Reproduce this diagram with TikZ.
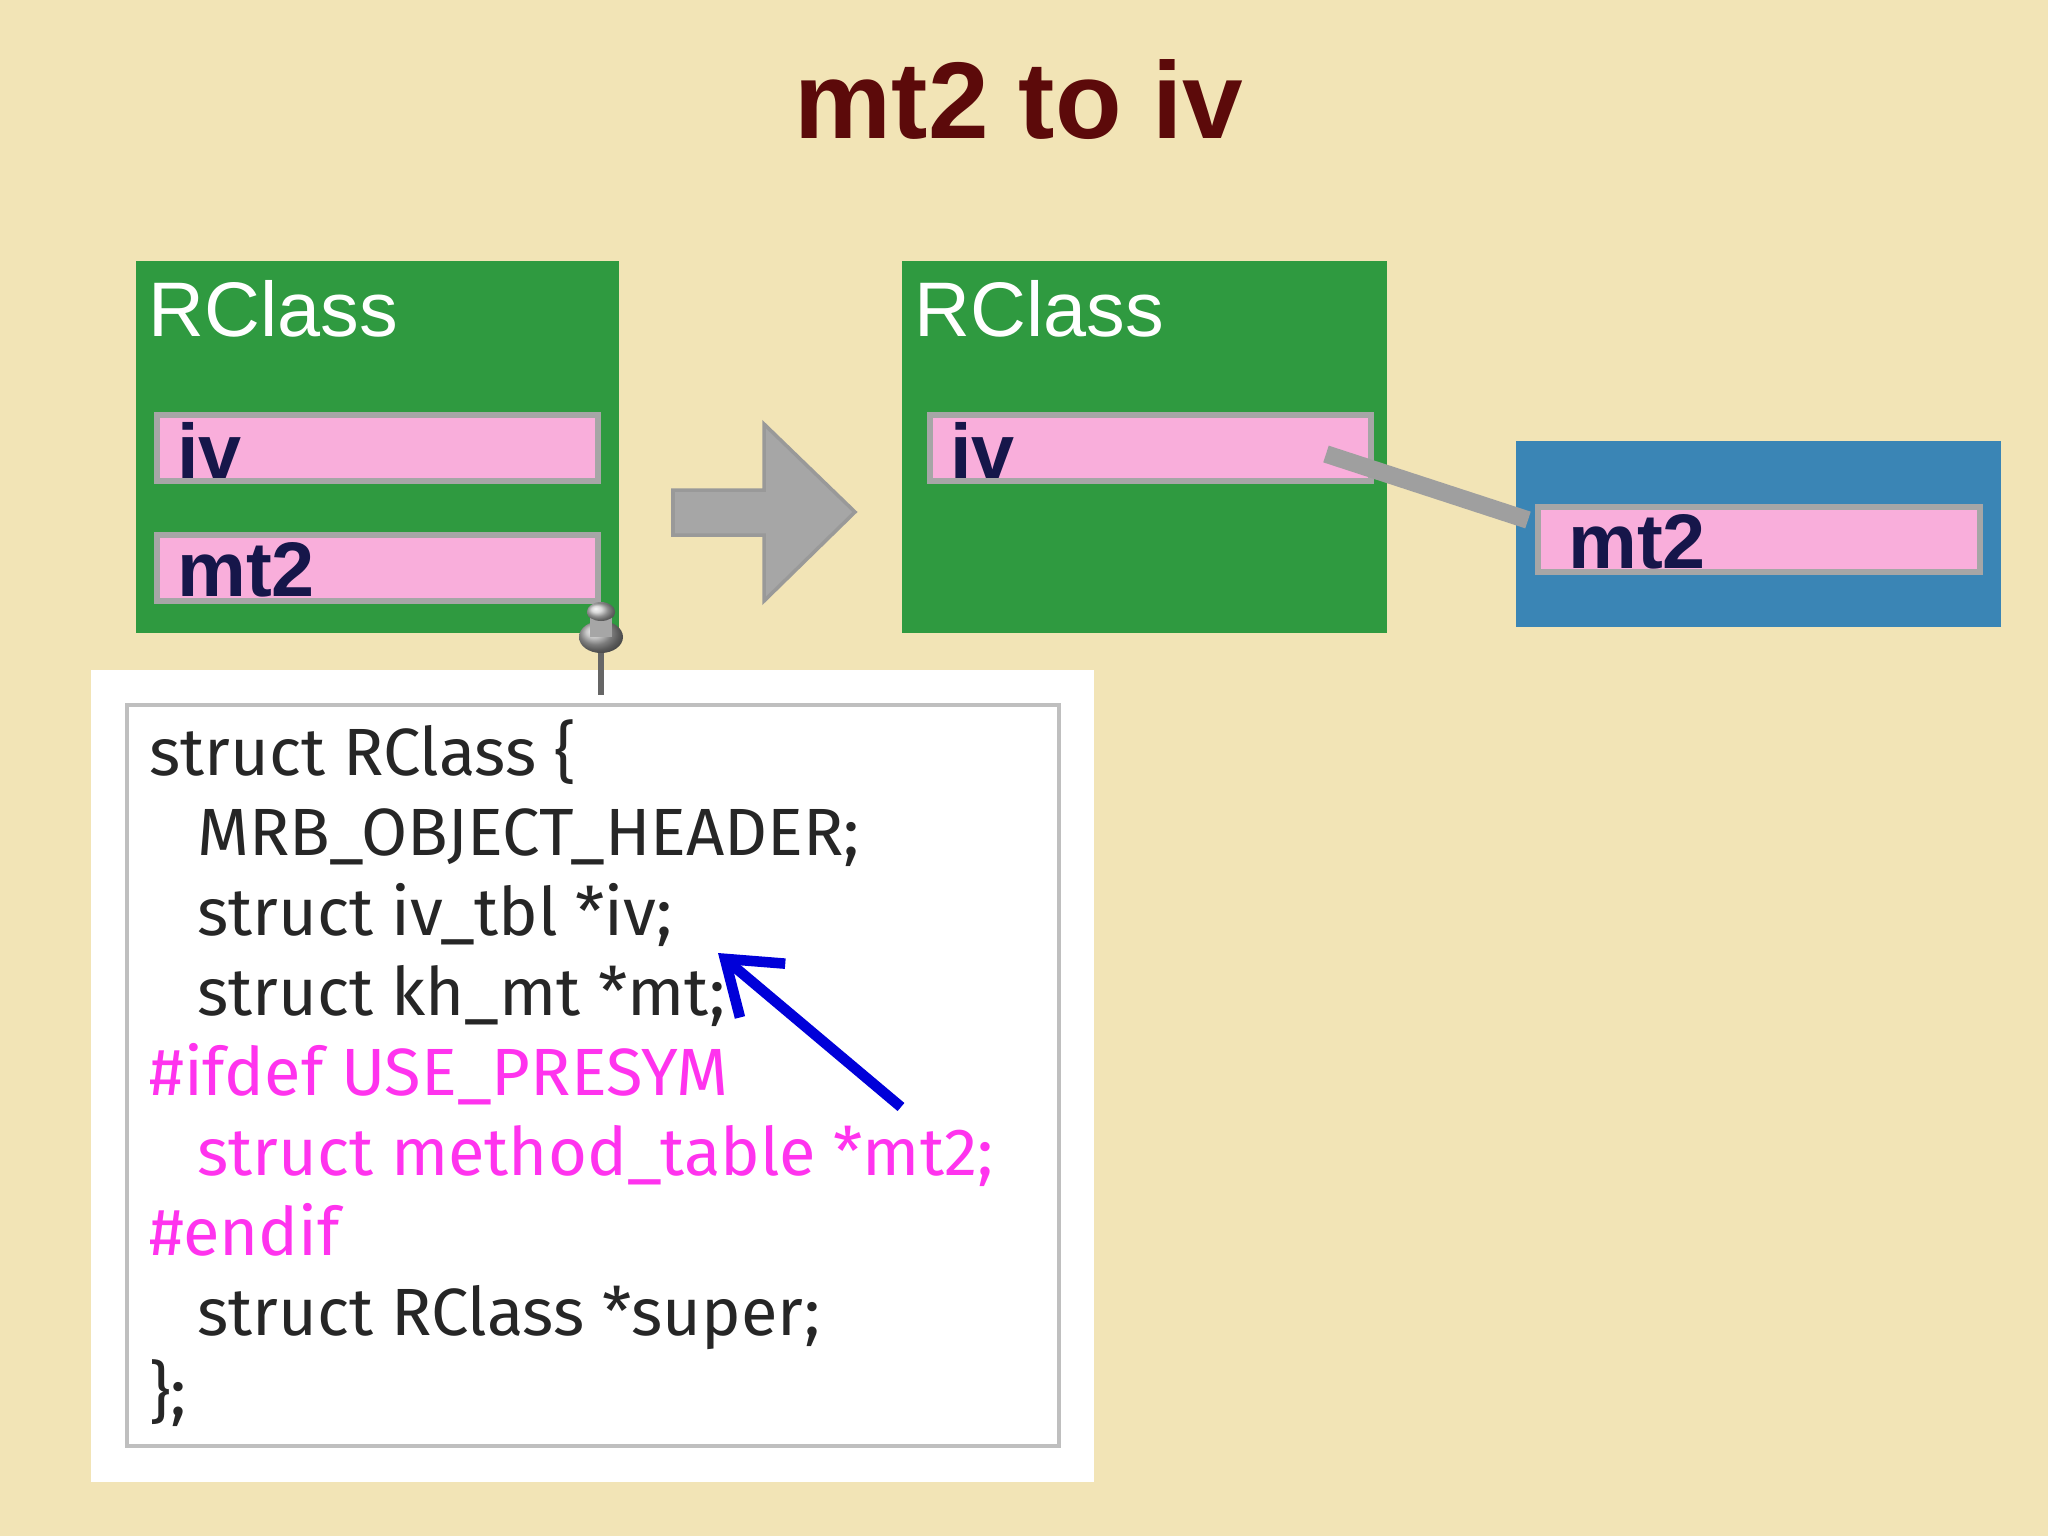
\documentclass[tikz,border=0pt]{standalone}
\usepackage{fontspec}
\setmainfont{Liberation Sans}
\newfontfamily\codefont{Fira Sans}
\usetikzlibrary{arrows.meta}
\definecolor{bg}{HTML}{F2E4B6}
\definecolor{grn}{HTML}{2F9A40}
\definecolor{pnk}{HTML}{F9AEDB}
\definecolor{blu}{HTML}{3A85B5}
\definecolor{ttl}{HTML}{5C0A0A}
\definecolor{navy}{HTML}{16164A}
\definecolor{mag}{HTML}{FF33EE}
\begin{document}
\begin{tikzpicture}[x=0.01cm,y=-0.01cm,
  greenbox/.style={fill=grn,draw=none},
  field/.style={fill=pnk,draw=gray!70,line width=1.5pt},
  fieldtxt/.style={anchor=west,text=navy,font=\fontsize{22}{24}\selectfont\bfseries},
  rclass/.style={anchor=north west,text=white,font=\fontsize{22}{24}\selectfont},
  code/.style={anchor=base west,font=\codefont\fontsize{19}{22}\selectfont,text=black!85},
  codem/.style={code,text=mag}]
\useasboundingbox (0,0) rectangle (2048,1536);
\fill[bg] (0,0) rectangle (2048,1536);
\node[font=\fontsize{31}{34}\selectfont\bfseries,text=ttl] (title) at (1019,100) {mt2 to iv};
% left box
\fill[greenbox] (136,261) rectangle (619,633);
\node[rclass] (rc1) at (136,268) {RClass};
\draw[field] (157,415) rectangle (598,481);
\node[fieldtxt] (iv1) at (165,450) {iv};
\draw[field] (157,535) rectangle (598,601);
\node[fieldtxt] (mt1) at (165,570) {mt2};
% arrow
\fill[gray!70!white,draw=gray!80,line width=1pt] (673,490) -- (764,490) -- (764,424) -- (855,512) -- (764,601) -- (764,535) -- (673,535) -- cycle;
% right box
\fill[greenbox] (902,261) rectangle (1387,633);
\node[rclass] (rc2) at (902,268) {RClass};
\draw[field] (930,415) rectangle (1371,481);
\node[fieldtxt] (iv2) at (938,450) {iv};
\fill[blu] (1516,441) rectangle (2001,627);
\draw[field] (1538,507) rectangle (1980,572);
\node[fieldtxt] (mt2) at (1556,542) {mt2};
\coordinate (a) at (1326,454);
\coordinate (b) at (1528,520);
\draw[gray!75,line width=5pt] (a) -- (b);
% paper
\fill[white] (91,670) rectangle (1094,1482);
\draw[gray!50,line width=1pt] (127,705) rectangle (1059,1446);
% pin
\fill[black!60] (598,640) rectangle (604,695);
\shade[ball color=gray!60] (601,637) ellipse (22 and 16);
\shade[ball color=gray!40] (601,612) ellipse (14 and 10);
\fill[gray!70] (590,612) rectangle (612,637);
\shade[ball color=gray!40] (601,612) ellipse (14 and 9);
% code
\node[code] (l1) at (137,775) {struct RClass \{};
\node[code] (l2) at (185,855) {MRB\_OBJECT\_HEADER;};
\node[code] (l3) at (185,935) {struct iv\_tbl *iv;};
\node[code] (l4) at (185,1015) {struct kh\_mt *mt;};
\node[codem] (l5) at (137,1095) {\#ifdef USE\_PRESYM};
\node[codem] (l6) at (185,1175) {struct method\_table *mt2;};
\node[codem] (l7) at (137,1255) {\#endif};
\node[code] (l8) at (185,1335) {struct RClass *super;};
\node[code] (l9) at (137,1415) {\};};
\coordinate (c) at (901,1107);
\coordinate (d) at (718,953);
\draw[blue!85!black,line width=3pt,-{Straight Barb[length=14pt,width=20pt]}] (c) -- (d);
\end{tikzpicture}
\end{document}
